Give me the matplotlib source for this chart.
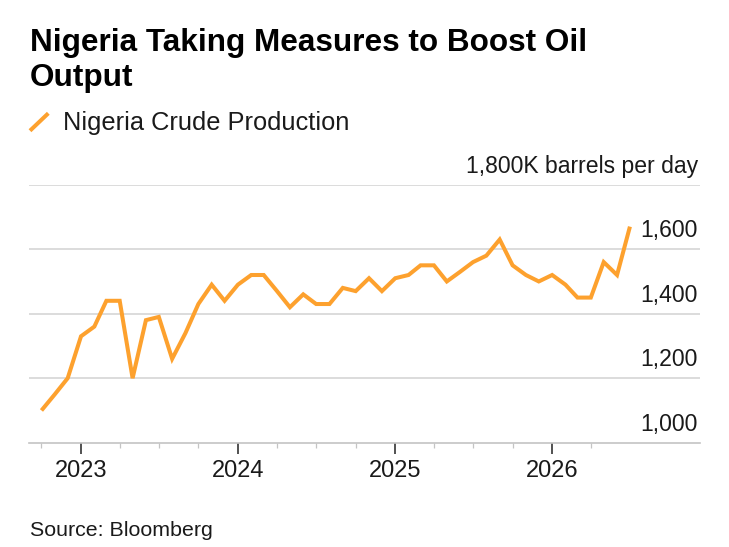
import matplotlib
matplotlib.use("Agg")
import matplotlib.pyplot as plt
import matplotlib.dates as mdates
from matplotlib.lines import Line2D
import numpy as np
import datetime as dt

# ---- data ----
title_lines = ["Nigeria Taking Measures to Boost Oil", "Output"]
series_name = "Nigeria Crude Production"
source_text = "Source: Bloomberg"
start_month = (2022, 10)
production = [1100, 1150, 1200, 1330, 1360, 1440, 1440, 1200, 1380, 1390,
              1260, 1340, 1430, 1490, 1440, 1490, 1520, 1520, 1470, 1420,
              1460, 1430, 1430, 1480, 1470, 1510, 1470, 1510, 1520, 1550,
              1550, 1500, 1530, 1560, 1580, 1630, 1550, 1520, 1500, 1520,
              1490, 1450, 1450, 1560, 1520, 1670]
y_ticks = [1000, 1200, 1400, 1600, 1800]
y_tick_labels = ["1,000", "1,200", "1,400", "1,600", "1,800K barrels per day"]
year_ticks = [2023, 2024, 2025, 2026]
minor_tick_months = [(2022, 10), (2023, 4), (2023, 7), (2023, 10), (2024, 4),
                     (2024, 7), (2024, 10), (2025, 4), (2025, 7), (2025, 10),
                     (2026, 4)]


def month_date(y, m):
    return dt.datetime(y, m, 1)


dates = []
y0, m0 = start_month
for i in range(len(production)):
    mm = m0 - 1 + i
    dates.append(month_date(y0 + mm // 12, mm % 12 + 1))

ORANGE = "#FDA12E"
FONT = "Liberation Sans"
plt.rcParams["font.family"] = [FONT, "DejaVu Sans"]

W, H = 729, 547
fig = plt.figure(figsize=(W / 100, H / 100), dpi=100)

# axes position in pixels
ax_l, ax_r, ax_b, ax_t = 29, 700, 442.7, 184.7
ax = fig.add_axes([ax_l / W, 1 - ax_b / H, (ax_r - ax_l) / W, (ax_b - ax_t) / H])

ax.plot(dates, production, color=ORANGE, lw=2.9, solid_joinstyle="miter",
        solid_capstyle="butt", zorder=3, clip_on=False)

ax.set_ylim(1000, 1800)
ax.set_xlim(mdates.date2num(dt.datetime(2022, 9, 2)),
            mdates.date2num(dt.datetime(2026, 12, 11)))

# grid
for v in y_ticks[1:]:
    ax.axhline(v, color="#d2d2d2", lw=1.1, zorder=1)
ax.set_yticks([])

for s in ["top", "left", "right"]:
    ax.spines[s].set_visible(False)
ax.spines["bottom"].set_color("#c4c4c4")
ax.spines["bottom"].set_linewidth(1.2)

# y labels (above gridlines, right aligned)
for v, lab in zip(y_ticks, y_tick_labels):
    ax.annotate(lab, xy=(1, v), xycoords=("axes fraction", "data"),
                xytext=(-2, 12), textcoords="offset pixels",
                ha="right", va="baseline", fontsize=16.6, color="#1a1a1a")

# x ticks
ax.set_xticks([mdates.date2num(dt.datetime(y, 1, 1)) for y in year_ticks])
ax.set_xticklabels([str(y) for y in year_ticks], fontsize=17, color="#1a1a1a")
ax.set_xticks([mdates.date2num(month_date(y, m)) for y, m in minor_tick_months],
              minor=True)
ax.tick_params(axis="x", which="major", length=7.7, width=1.1, color="#222222",
               pad=5, direction="out")
ax.tick_params(axis="x", which="minor", length=3.6, width=0.9, color="#c4c4c4",
               direction="out")

# title
fig.text(30 / W, 1 - 51 / H, title_lines[0], fontsize=22.7, fontweight="bold",
         ha="left", va="baseline", color="#000000")
fig.text(30 / W, 1 - 85.7 / H, title_lines[1], fontsize=22.7, fontweight="bold",
         ha="left", va="baseline", color="#000000")

# legend
fig.add_artist(Line2D([30 / W, 48.3 / W], [1 - 130.7 / H, 1 - 113.3 / H],
                      transform=fig.transFigure, color=ORANGE, lw=2.9,
                      solid_capstyle="butt"))
fig.text(63 / W, 1 - 130 / H, series_name, fontsize=18.3, ha="left",
         va="baseline", color="#1a1a1a")

# source
fig.text(30 / W, 1 - 536 / H, source_text, fontsize=15.4, ha="left",
         va="baseline", color="#1a1a1a")

fig.savefig("out.png", dpi=100)
